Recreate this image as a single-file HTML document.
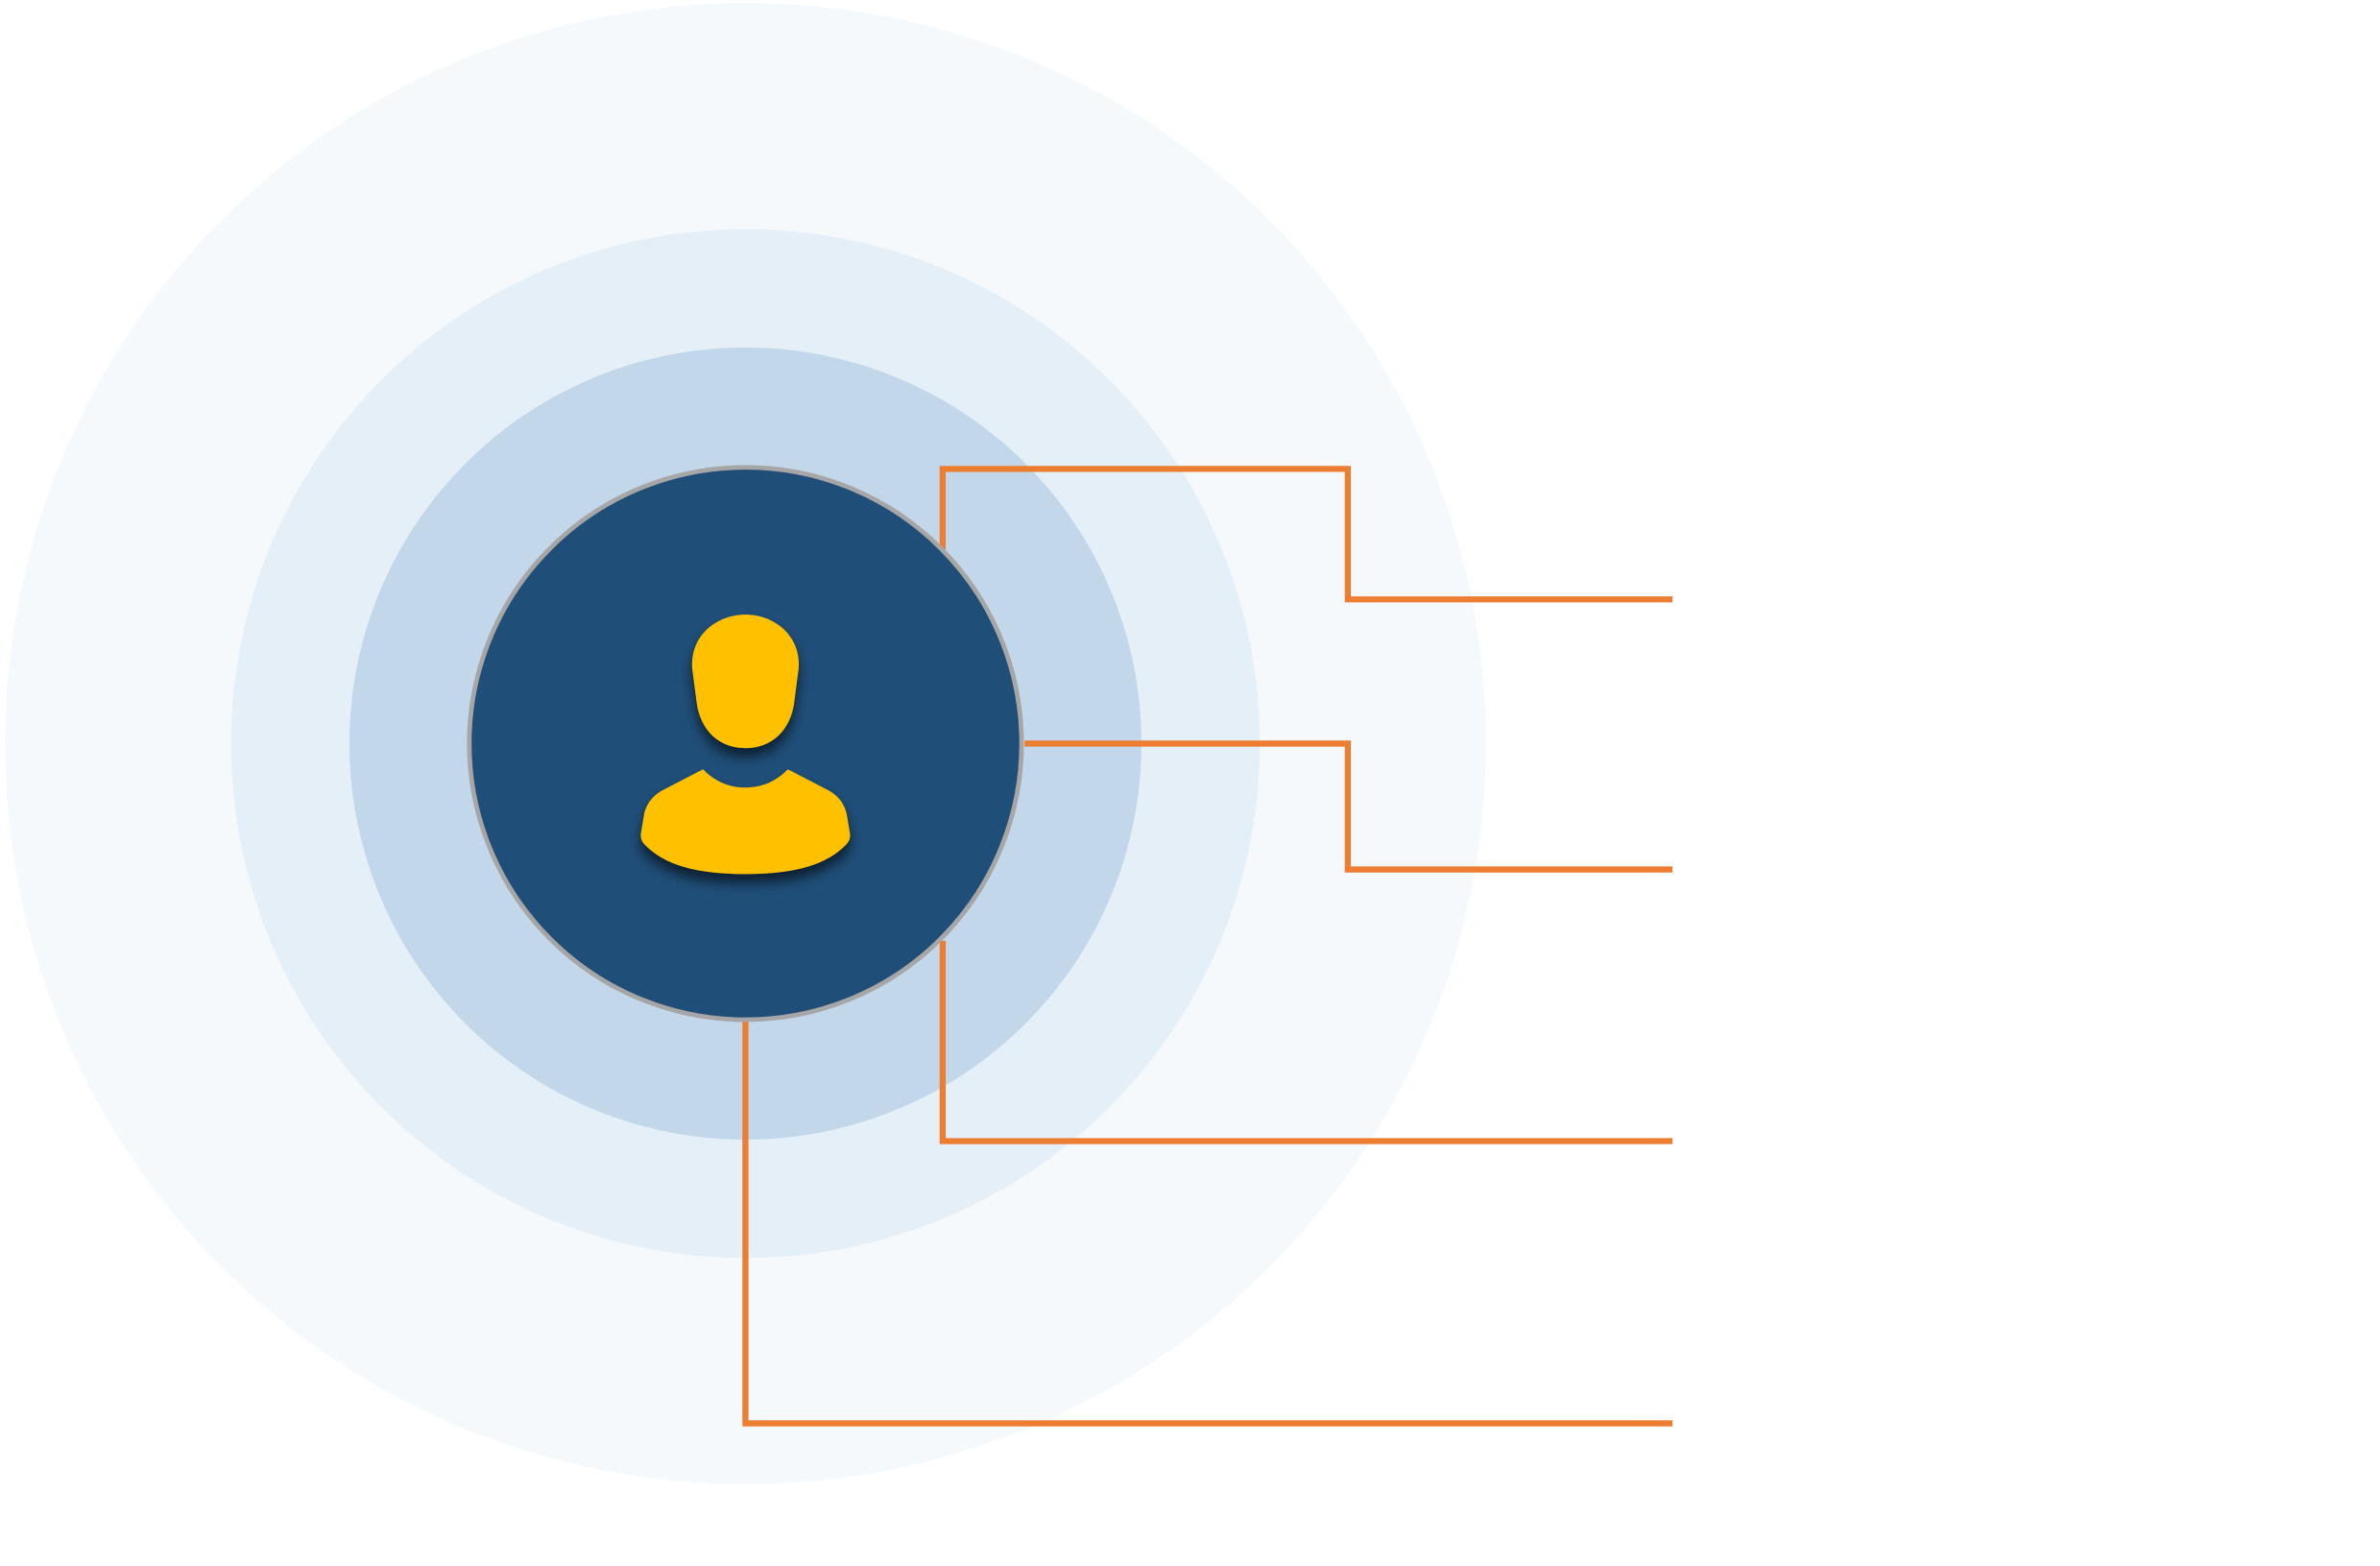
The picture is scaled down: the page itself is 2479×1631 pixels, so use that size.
<!DOCTYPE html>
<html><head><meta charset="utf-8"><style>html,body{margin:0;padding:0;background:#fff}svg{display:block}</style></head>
<body>
<svg width="2479" height="1631" viewBox="0 0 1568 1032" xmlns="http://www.w3.org/2000/svg">
<defs>
<filter id="sh" x="-30%" y="-30%" width="160%" height="180%"><feGaussianBlur in="SourceAlpha" stdDeviation="4"/><feOffset dx="0" dy="6"/><feComponentTransfer><feFuncA type="linear" slope="0.6"/></feComponentTransfer><feMerge><feMergeNode/><feMergeNode in="SourceGraphic"/></feMerge></filter>
</defs>
<rect width="1568" height="1032" fill="#fff"/>
<circle cx="491" cy="490" r="488" fill="#f5f9fc"/>
<circle cx="491" cy="490" r="339" fill="#e4eff8"/>
<circle cx="491" cy="490" r="261" fill="#c2d8ea"/>
<g fill="none" stroke="#ed7d31" stroke-width="4">
<polyline points="621,362 621,309 888,309 888,395 1102,395"/>
<polyline points="675,490 888,490 888,573 1102,573"/>
<polyline points="621,620 621,752 1102,752"/>
<polyline points="491,673 491,938 1102,938"/>
</g>
<circle cx="491" cy="490" r="182" fill="#1f4e78" stroke="#a6a6a6" stroke-width="3"/>
<g fill="#ffc000" filter="url(#sh)">
<path d="M491,405 C472,405 454,419 456,441 L459,464 C462,482 474,493 491,493 C508,493 520,482 523,464 L526,441 C528,419 510,405 491,405 Z"/>
<path d="M463,507 C471,515 480,519 491,519 C502,519 511,515 519,507 L546,521 C553,525 557,531 558,538 L560,550 C560,553 559,555 557,557 C545,569 526,576 491,576 C456,576 437,569 425,557 C423,555 422,553 422,550 L424,538 C425,531 429,525 436,521 Z"/>
</g>
</svg>
</body></html>
